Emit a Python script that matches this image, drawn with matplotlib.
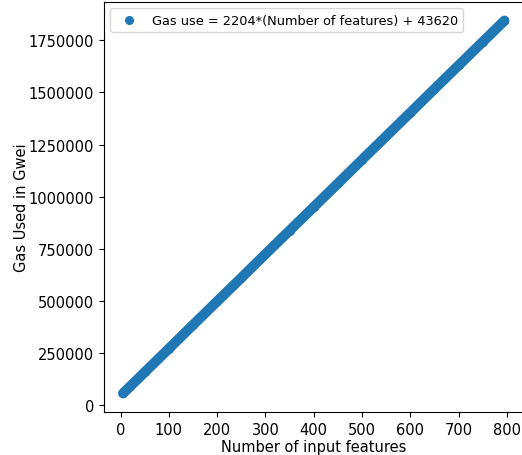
import numpy as np
import matplotlib.pyplot as plt

# gas readings taken along the plotted points
features = [5, 50, 100, 150, 200, 250, 300, 350, 400, 450, 500, 550, 600, 650, 700, 750, 795]
gas_used = [55000, 157000, 270000, 384000, 497000, 610000, 724000, 837000, 950000,
            1063000, 1177000, 1290000, 1403000, 1517000, 1630000, 1743000, 1845000]
label = 'Gas use = 2204*(Number of features) + 43620'

colour = '#1f77b4'

fig = plt.figure(figsize=(5.22, 4.56), dpi=100)
ax = fig.add_axes([104 / 522, 43 / 456, 419.5 / 522, 410 / 456])

# dense points overlap into a solid band, line drawn over the dots
ax.scatter(features, gas_used, s=30, color=colour, label=label, zorder=1)
ax.plot(features, gas_used, color=colour, linewidth=7.3, solid_capstyle='round', zorder=2)

ax.set_xticks(np.arange(0, 801, 100))
ax.set_yticks(np.arange(0, 1750001, 250000))
ax.ticklabel_format(style='plain', axis='y')
ax.tick_params(labelsize=10.5)
ax.set_xlabel('Number of input features', fontsize=10.5, labelpad=2)
ax.set_ylabel('Gas Used in Gwei', fontsize=10.5, labelpad=0)
ax.legend(loc='upper left', fontsize=9.3)

plt.savefig('out.png', dpi=100)
